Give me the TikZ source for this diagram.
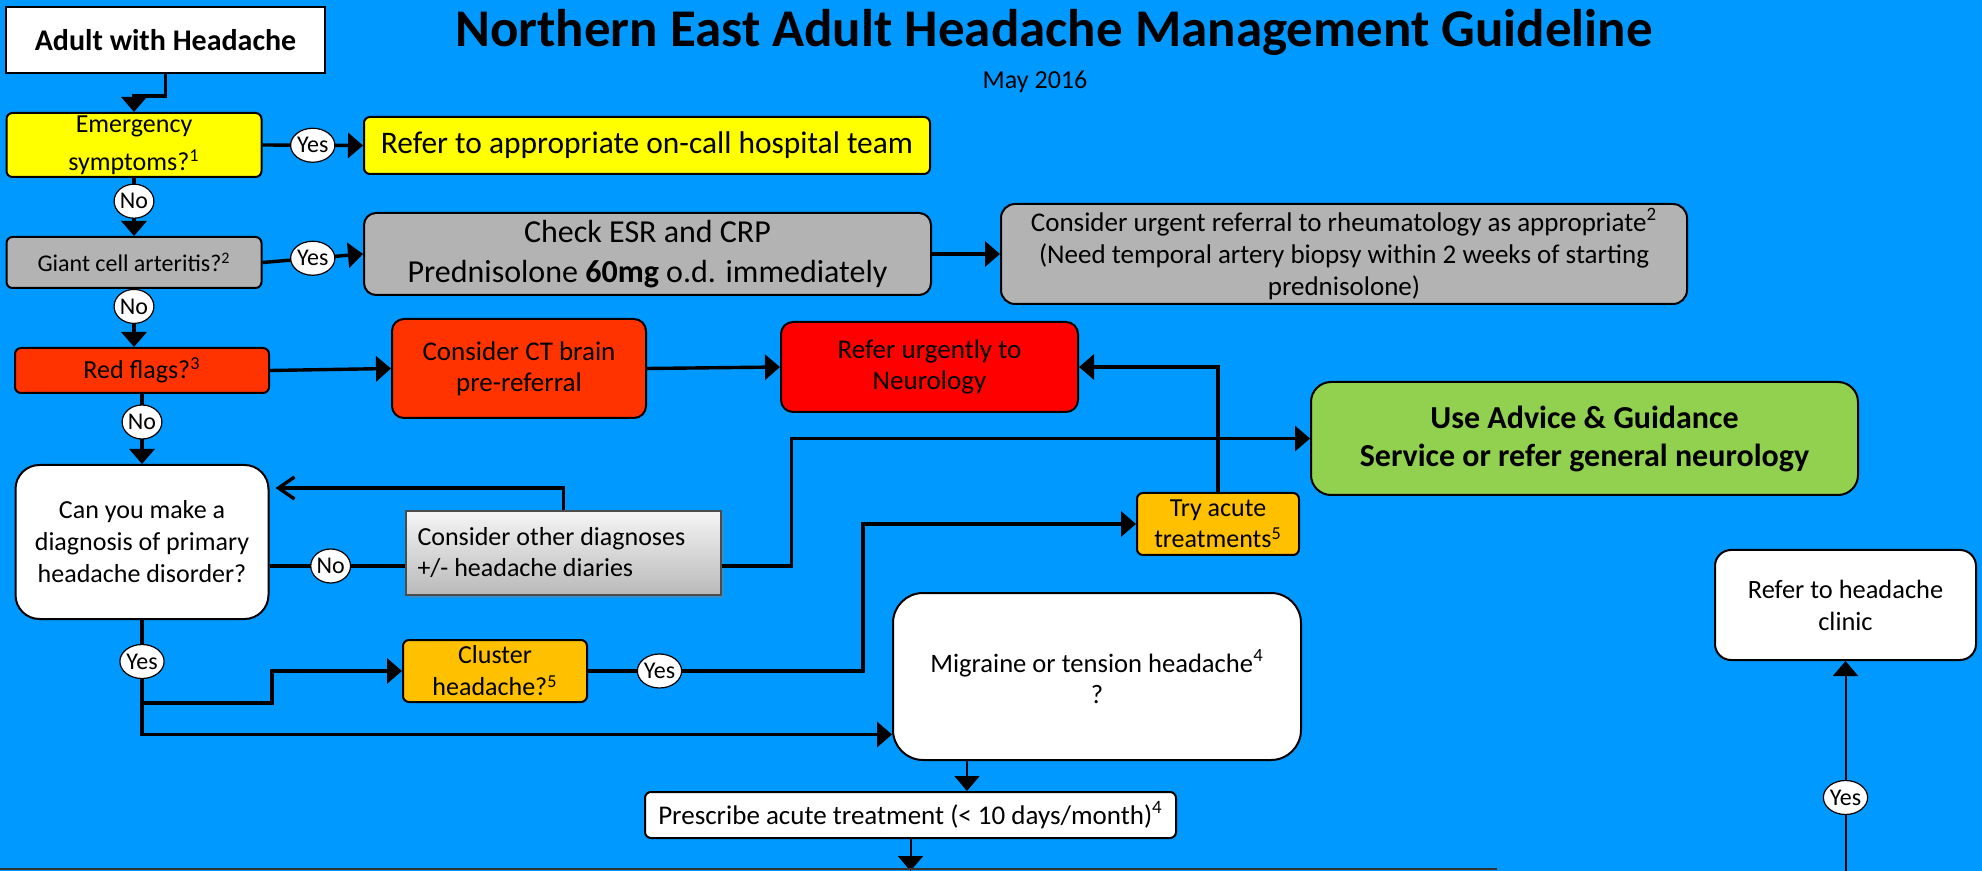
\documentclass[tikz,border=0pt]{standalone}
\usepackage{fontspec}
\setmainfont{Carlito}
\usepackage{tikz}
\usetikzlibrary{positioning, arrows.meta, shapes.geometric, shadows}

\definecolor{bgblue}{HTML}{0099FF}
\definecolor{flagyellow}{HTML}{FFFF00}
\definecolor{gcagray}{HTML}{B3B3B3}
\definecolor{flagorange}{HTML}{FF3300}
\definecolor{flagred}{HTML}{FF0000}
\definecolor{amber}{HTML}{FFC000}
\definecolor{advgreen}{HTML}{92D050}

\newcommand{\txtsize}[2]{\fontsize{#1}{#2}\selectfont}

\tikzset{
  box/.style={draw, line width=1pt, align=center, inner sep=0pt, rounded corners=3pt},
  lbl/.style={ellipse, draw, line width=0.6pt, fill=white, inner sep=0pt, minimum height=17pt, font=\txtsize{12pt}{12pt}},
  arr/.style={line width=1.7pt, -{Triangle[length=7.5pt,width=12.5pt]}},
  arrthin/.style={line width=1pt, -{Triangle[length=7.5pt,width=12.5pt]}},
  link/.style={line width=1.7pt},
  back/.style={line width=1.7pt, -{Straight Barb[length=8pt,width=11pt]}, shorten >=3pt},
}

\begin{document}
\begin{tikzpicture}[x=0.5pt,y=-0.5pt]
    \fill[bgblue] (0,0) rectangle (1982,871);
    \useasboundingbox (0,0) rectangle (1982,871);

    % title
    \node[anchor=base, font=\bfseries\txtsize{26.5pt}{30pt}] (title) at (1054,47) {Northern East Adult Headache Management Guideline};
    \node[anchor=base, font=\txtsize{13pt}{15pt}] (date) at (1035,89) {May 2016};

    % left column
    \node[box, rounded corners=0pt, fill=white, minimum width=159.5pt, minimum height=33pt, font=\bfseries\txtsize{15pt}{18pt}] (adult) at (165.5,40) {Adult with Headache};
    \node[box, fill=flagyellow, minimum width=127.5pt, minimum height=32pt, font=\txtsize{13pt}{19pt}] (emerg) at (134,145) {Emergency\\symptoms?\textsuperscript{1}};
    \node[box, fill=gcagray, minimum width=127.5pt, minimum height=25.5pt, font=\txtsize{12pt}{14pt}] (gca) at (134,262.5) {Giant cell arteritis?\textsuperscript{2}};
    \node[box, fill=flagorange, minimum width=127pt, minimum height=22.5pt, font=\txtsize{13pt}{15pt}] (redflag) at (142,370.5) {Red flags?\textsuperscript{3}};
    \node[box, fill=white, rounded corners=12pt, minimum width=126.5pt, minimum height=77pt, font=\txtsize{13pt}{16pt}] (diag) at (142,542) {Can you make a\\diagnosis of primary\\headache disorder?};

    % referrals
    \node[box, fill=flagyellow, minimum width=283pt, minimum height=28.5pt, font=\txtsize{15.7pt}{18pt}] (oncall) at (647,145.5) {Refer to appropriate on-call hospital team};
    \node[box, fill=gcagray, rounded corners=6pt, minimum width=283.5pt, minimum height=41pt, font=\txtsize{16pt}{20pt}] (esr) at (647.5,254) {Check ESR and CRP\\Prednisolone \textbf{60mg} o.d. immediately};
    \node[box, fill=gcagray, rounded corners=7pt, minimum width=343pt, minimum height=50pt, font=\txtsize{13.5pt}{16pt}] (rheum) at (1344,254) {Consider urgent referral to rheumatology as appropriate\textsuperscript{2}\\(Need temporal artery biopsy within 2 weeks of starting\\prednisolone)};
    \node[box, fill=flagorange, rounded corners=6pt, minimum width=127pt, minimum height=49.5pt, font=\txtsize{13.5pt}{15.5pt}] (ct) at (519,368.5) {Consider CT brain\\pre-referral};
    \node[box, fill=flagred, rounded corners=6pt, minimum width=148.5pt, minimum height=45pt, font=\txtsize{13.5pt}{15.5pt}] (urgent) at (929.5,367) {Refer urgently to\\Neurology};
    \node[box, fill=advgreen, rounded corners=10pt, minimum width=273.5pt, minimum height=56.5pt, font=\bfseries\txtsize{16pt}{19pt}] (advice) at (1584.5,438.5) {Use Advice \& Guidance\\Service or refer general neurology};

    % primary headache
    \node[box, rounded corners=0pt, draw=black!70, line width=0.6pt, top color=gray!8, bottom color=gray!55,
          drop shadow={shadow xshift=1.5pt, shadow yshift=-1.5pt, opacity=0.4},
          align=flush left, text width=146pt, inner xsep=5.75pt, minimum height=42pt, font=\txtsize{13pt}{15.5pt}] (other) at (563.5,553) {Consider other diagnoses\\+/- headache diaries};
    \node[box, fill=amber, minimum width=81pt, minimum height=31pt, font=\txtsize{13pt}{15.5pt}] (tryacute) at (1218,524) {Try acute\\treatments\textsuperscript{5}};
    \node[box, fill=amber, minimum width=92pt, minimum height=31pt, font=\txtsize{13pt}{16pt}] (cluster) at (495,671) {Cluster\\headache?\textsuperscript{5}};
    \node[box, fill=white, rounded corners=15pt, minimum width=204pt, minimum height=83.5pt, font=\txtsize{13.3pt}{15.5pt}] (migraine) at (1097,676.5) {Migraine or tension headache\textsuperscript{4}\\?};
    \node[box, fill=white, minimum width=265.5pt, minimum height=23pt, font=\txtsize{13.5pt}{15pt}] (prescribe) at (910.5,815) {Prescribe acute treatment (< 10 days/month)\textsuperscript{4}};
    \node[box, fill=white, rounded corners=8pt, minimum width=130.5pt, minimum height=55pt, font=\txtsize{13.2pt}{16pt}] (clinic) at (1845.5,605) {Refer to headache\\clinic};

    % connectors
    \draw[arr] (adult.south) -- ++(0,22) -| (emerg.north);
    \draw[arr] (emerg.east) -- node[lbl]{Yes} (oncall.west);
    \draw[arr] (emerg.south) -- node[lbl, pos=0.4]{No} (gca.north);
    \draw[arr] (gca.east) -- node[lbl]{Yes} (esr.west);
    \draw[arr] (esr.east) -- (rheum.west);
    \draw[arr] (gca.south) -- node[lbl, pos=0.3]{No} (gca.south |- redflag.north);
    \draw[arr] (redflag.east) -- (ct.west);
    \draw[arr] (ct.east) -- (urgent.west);
    \draw[arr] (redflag.south) -- node[lbl, pos=0.4]{No} (diag.north);

    \coordinate (nojoin) at ([yshift=-6.5pt]other.west);
    \draw[link] (diag.east |- nojoin) -- node[lbl, pos=0.45]{No} (nojoin);
    \draw[back] (other.north) |- ([yshift=27pt]diag.east);
    \draw[arr] (nojoin -| other.east) -- ++(70,0) |- (advice.west);
    \draw[arr] (tryacute.north) |- (urgent.east);

    \draw[link] (diag.south) -- node[lbl]{Yes} ++(0,83) coordinate (fork);
    \draw[arr] (fork) -- ++(130,0) |- (cluster.west);
    \draw[arr] (fork) |- ([yshift=-29pt]migraine.west);
    \draw[arr] (cluster.east) -- node[lbl, pos=0.26]{Yes} ++(275,0) |- (tryacute.west);

    \draw[arrthin] ([xshift=-65pt]migraine.south) -- ([xshift=-65pt]migraine.south |- prescribe.north);
    \coordinate (outA) at (910.5,871);
    \draw[arrthin] (prescribe.south) -- (outA);
    \coordinate (outB) at (1845.5,871);
    \draw[arrthin] (outB) -- node[lbl, pos=0.35]{Yes} (clinic.south);
    % edge of the box below
    \draw[line width=1pt, black!80] (0,869) -- (1497,869);
\end{tikzpicture}
\end{document}
